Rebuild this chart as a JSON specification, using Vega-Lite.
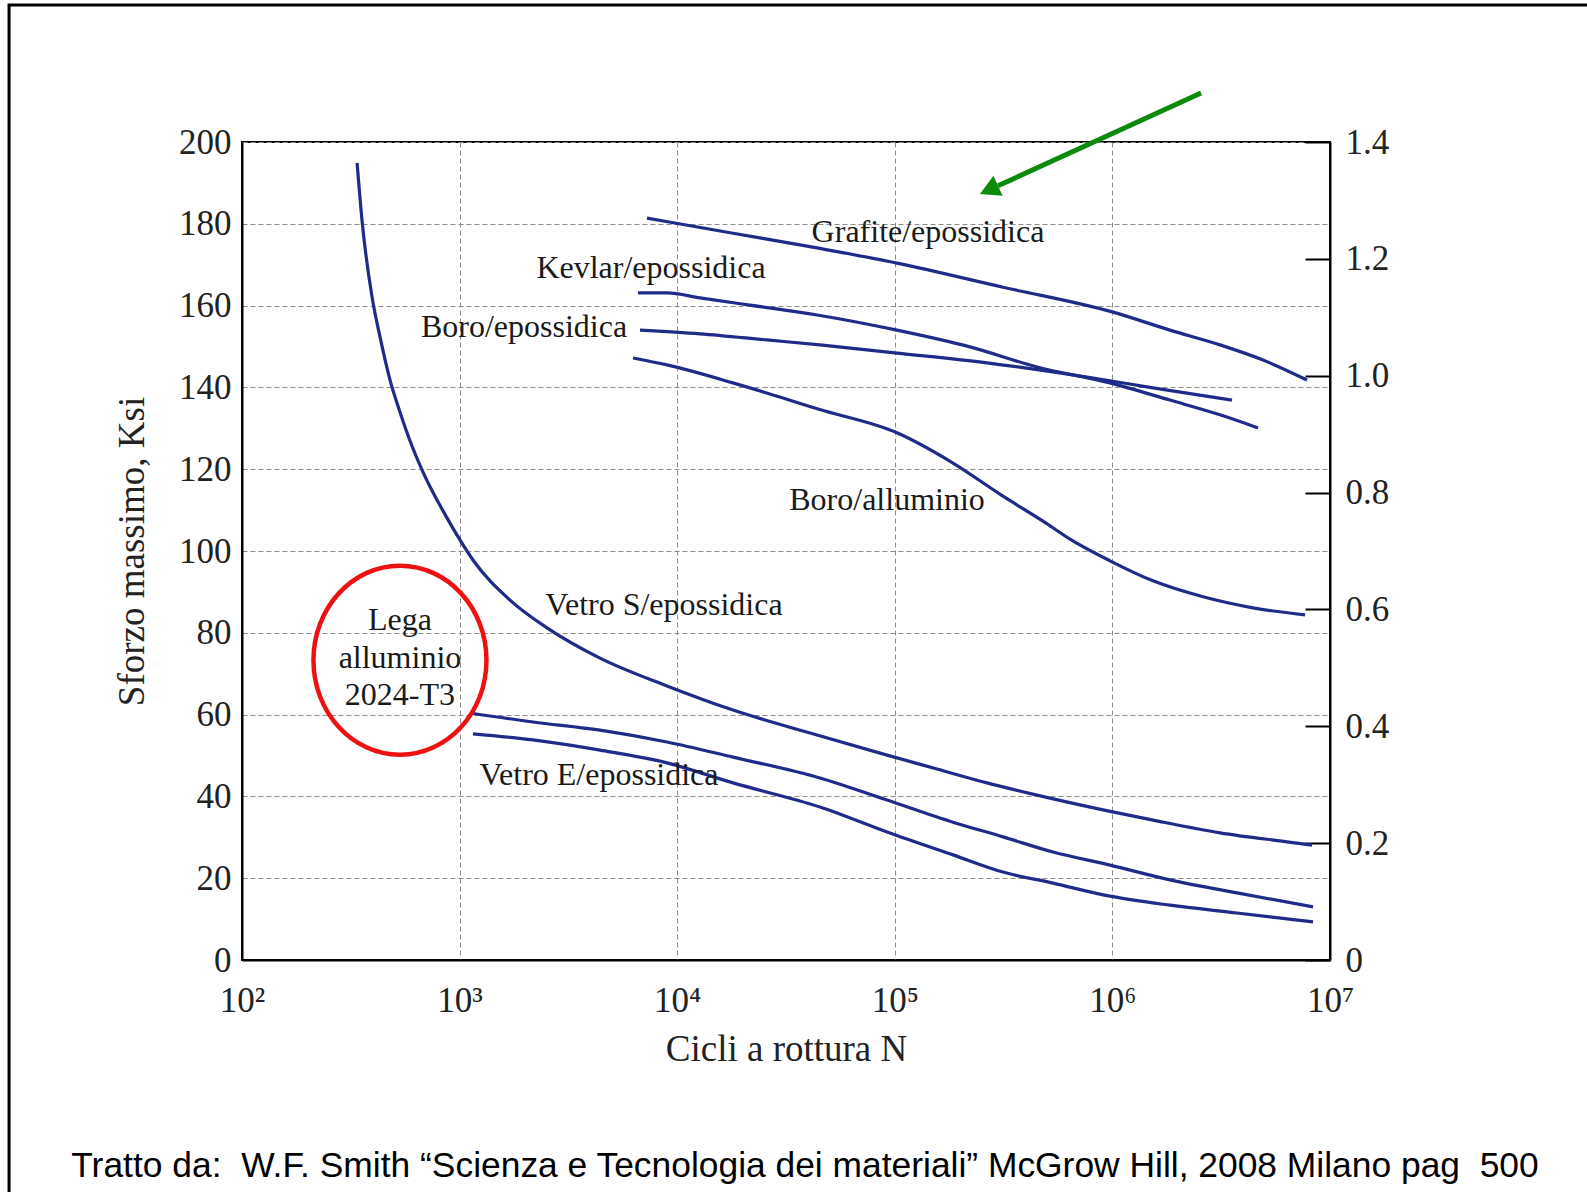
{
  "$schema": "https://vega.github.io/schema/vega-lite/v6.json",
  "width": 1088,
  "height": 818,
  "autosize": {"type": "none"},
  "padding": {"left": 242, "top": 142, "right": 257, "bottom": 232},
  "background": "white",
  "config": {
    "font": "Liberation Serif",
    "view": {"stroke": "black", "strokeWidth": 2},
    "axis": {
      "domainColor": "black",
      "domainWidth": 2,
      "labelFont": "Liberation Serif",
      "labelFontSize": 35,
      "labelColor": "#222222",
      "titleFont": "Liberation Serif",
      "titleFontSize": 37,
      "titleFontWeight": "normal",
      "titleColor": "#222222",
      "gridColor": "#8c8c8c",
      "gridDash": [5, 3],
      "gridWidth": 1,
      "labelOverlap": false,
      "labelFlush": false,
      "labelBound": false
    }
  },
  "datasets": {
    "curves": [
      {"material": "Vetro S/epossidica", "N": 338, "stress": 194.9},
      {"material": "Vetro S/epossidica", "N": 356, "stress": 180.9},
      {"material": "Vetro S/epossidica", "N": 396, "stress": 162.1},
      {"material": "Vetro S/epossidica", "N": 431, "stress": 152.3},
      {"material": "Vetro S/epossidica", "N": 479, "stress": 141.8},
      {"material": "Vetro S/epossidica", "N": 532, "stress": 134.0},
      {"material": "Vetro S/epossidica", "N": 592, "stress": 126.9},
      {"material": "Vetro S/epossidica", "N": 679, "stress": 119.3},
      {"material": "Vetro S/epossidica", "N": 875, "stress": 108.1},
      {"material": "Vetro S/epossidica", "N": 1004, "stress": 102.7},
      {"material": "Vetro S/epossidica", "N": 1152, "stress": 97.8},
      {"material": "Vetro S/epossidica", "N": 1704, "stress": 88.0},
      {"material": "Vetro S/epossidica", "N": 2522, "stress": 81.2},
      {"material": "Vetro S/epossidica", "N": 4418, "stress": 73.8},
      {"material": "Vetro S/epossidica", "N": 8977, "stress": 67.0},
      {"material": "Vetro S/epossidica", "N": 18050, "stress": 61.1},
      {"material": "Vetro S/epossidica", "N": 43910, "stress": 55.0},
      {"material": "Vetro S/epossidica", "N": 92100, "stress": 50.1},
      {"material": "Vetro S/epossidica", "N": 156300, "stress": 46.7},
      {"material": "Vetro S/epossidica", "N": 265300, "stress": 43.3},
      {"material": "Vetro S/epossidica", "N": 450300, "stress": 40.3},
      {"material": "Vetro S/epossidica", "N": 905300, "stress": 36.7},
      {"material": "Vetro S/epossidica", "N": 1537000, "stress": 34.2},
      {"material": "Vetro S/epossidica", "N": 3123000, "stress": 31.1},
      {"material": "Vetro S/epossidica", "N": 6344000, "stress": 28.9},
      {"material": "Vetro S/epossidica", "N": 8269000, "stress": 28.1},

      {"material": "Lega alluminio 2024-T3", "N": 1116, "stress": 60.4},
      {"material": "Lega alluminio 2024-T3", "N": 2174, "stress": 58.2},
      {"material": "Lega alluminio 2024-T3", "N": 4418, "stress": 56.2},
      {"material": "Lega alluminio 2024-T3", "N": 8977, "stress": 53.3},
      {"material": "Lega alluminio 2024-T3", "N": 18050, "stress": 49.6},
      {"material": "Lega alluminio 2024-T3", "N": 45320, "stress": 44.5},
      {"material": "Lega alluminio 2024-T3", "N": 92100, "stress": 39.1},
      {"material": "Lega alluminio 2024-T3", "N": 185100, "stress": 33.7},
      {"material": "Lega alluminio 2024-T3", "N": 314300, "stress": 30.1},
      {"material": "Lega alluminio 2024-T3", "N": 533400, "stress": 26.4},
      {"material": "Lega alluminio 2024-T3", "N": 975000, "stress": 23.2},
      {"material": "Lega alluminio 2024-T3", "N": 1839000, "stress": 19.6},
      {"material": "Lega alluminio 2024-T3", "N": 3737000, "stress": 16.4},
      {"material": "Lega alluminio 2024-T3", "N": 8357000, "stress": 13.0},

      {"material": "Vetro E/epossidica", "N": 1152, "stress": 55.3},
      {"material": "Vetro E/epossidica", "N": 2174, "stress": 53.8},
      {"material": "Vetro E/epossidica", "N": 4418, "stress": 51.3},
      {"material": "Vetro E/epossidica", "N": 8977, "stress": 48.2},
      {"material": "Vetro E/epossidica", "N": 18050, "stress": 43.3},
      {"material": "Vetro E/epossidica", "N": 45320, "stress": 37.4},
      {"material": "Vetro E/epossidica", "N": 92100, "stress": 31.3},
      {"material": "Vetro E/epossidica", "N": 185100, "stress": 25.7},
      {"material": "Vetro E/epossidica", "N": 314300, "stress": 21.5},
      {"material": "Vetro E/epossidica", "N": 533400, "stress": 18.8},
      {"material": "Vetro E/epossidica", "N": 975000, "stress": 15.6},
      {"material": "Vetro E/epossidica", "N": 1839000, "stress": 13.4},
      {"material": "Vetro E/epossidica", "N": 3737000, "stress": 11.5},
      {"material": "Vetro E/epossidica", "N": 8357000, "stress": 9.3},

      {"material": "Grafite/epossidica", "N": 7264, "stress": 181.4},
      {"material": "Grafite/epossidica", "N": 18050, "stress": 177.7},
      {"material": "Grafite/epossidica", "N": 43910, "stress": 174.1},
      {"material": "Grafite/epossidica", "N": 102300, "stress": 170.4},
      {"material": "Grafite/epossidica", "N": 314300, "stress": 164.5},
      {"material": "Grafite/epossidica", "N": 1007000, "stress": 158.4},
      {"material": "Grafite/epossidica", "N": 1839000, "stress": 154.0},
      {"material": "Grafite/epossidica", "N": 3123000, "stress": 150.4},
      {"material": "Grafite/epossidica", "N": 4921000, "stress": 146.7},
      {"material": "Grafite/epossidica", "N": 7840000, "stress": 141.8},

      {"material": "Kevlar/epossidica", "N": 6606, "stress": 163.1},
      {"material": "Kevlar/epossidica", "N": 8977, "stress": 163.1},
      {"material": "Kevlar/epossidica", "N": 12730, "stress": 161.9},
      {"material": "Kevlar/epossidica", "N": 21610, "stress": 160.1},
      {"material": "Kevlar/epossidica", "N": 43910, "stress": 157.7},
      {"material": "Kevlar/epossidica", "N": 102300, "stress": 154.0},
      {"material": "Kevlar/epossidica", "N": 221600, "stress": 149.9},
      {"material": "Kevlar/epossidica", "N": 450300, "stress": 145.0},
      {"material": "Kevlar/epossidica", "N": 975000, "stress": 141.1},
      {"material": "Kevlar/epossidica", "N": 1839000, "stress": 136.9},
      {"material": "Kevlar/epossidica", "N": 3123000, "stress": 133.3},
      {"material": "Kevlar/epossidica", "N": 4668000, "stress": 130.1},

      {"material": "Boro/epossidica", "N": 6745, "stress": 154.0},
      {"material": "Boro/epossidica", "N": 12730, "stress": 153.1},
      {"material": "Boro/epossidica", "N": 25860, "stress": 151.6},
      {"material": "Boro/epossidica", "N": 45320, "stress": 150.4},
      {"material": "Boro/epossidica", "N": 102300, "stress": 148.4},
      {"material": "Boro/epossidica", "N": 265300, "stress": 146.0},
      {"material": "Boro/epossidica", "N": 764200, "stress": 142.5},
      {"material": "Boro/epossidica", "N": 1537000, "stress": 139.9},
      {"material": "Boro/epossidica", "N": 3545000, "stress": 136.9},

      {"material": "Boro/alluminio", "N": 6266, "stress": 147.2},
      {"material": "Boro/alluminio", "N": 8977, "stress": 145.5},
      {"material": "Boro/alluminio", "N": 18050, "stress": 141.1},
      {"material": "Boro/alluminio", "N": 30640, "stress": 137.4},
      {"material": "Boro/alluminio", "N": 44380, "stress": 134.7},
      {"material": "Boro/alluminio", "N": 102300, "stress": 128.9},
      {"material": "Boro/alluminio", "N": 185100, "stress": 121.5},
      {"material": "Boro/alluminio", "N": 314300, "stress": 113.4},
      {"material": "Boro/alluminio", "N": 479900, "stress": 107.3},
      {"material": "Boro/alluminio", "N": 638500, "stress": 102.9},
      {"material": "Boro/alluminio", "N": 975000, "stress": 97.6},
      {"material": "Boro/alluminio", "N": 1537000, "stress": 92.7},
      {"material": "Boro/alluminio", "N": 2609000, "stress": 88.8},
      {"material": "Boro/alluminio", "N": 4428000, "stress": 86.1},
      {"material": "Boro/alluminio", "N": 7678000, "stress": 84.4}
    ],
    "labels": [
      {"label": "Grafite/epossidica", "N": 142100, "stress": 178.0},
      {"label": "Kevlar/epossidica", "N": 7579, "stress": 169.2},
      {"label": "Boro/epossidica", "N": 1977, "stress": 154.8},
      {"label": "Boro/alluminio", "N": 92100, "stress": 112.5},
      {"label": "Vetro S/epossidica", "N": 8697, "stress": 86.8},
      {"label": "Vetro E/epossidica", "N": 4371, "stress": 45.2},
      {"label": "Lega", "N": 532, "stress": 83.1},
      {"label": "alluminio", "N": 532, "stress": 73.8},
      {"label": "2024-T3", "N": 532, "stress": 64.8}
    ],
    "footer": [
      {"label": "Tratto da: \u00a0W.F. Smith “Scienza e Tecnologia dei materiali” McGrow Hill, 2008 Milano pag \u00a0500", "N": 38670, "stress": -50.4}
    ],
    "highlight": [
      {"N": 532, "stress": 73.3}
    ],
    "arrow": [
      {"point": "coda", "N": 2555000, "stress": 212.0},
      {"point": "base", "N": 298100, "stress": 189.3}
    ],
    "arrowhead": [
      {"N": 246300, "stress": 187.3}
    ],
    "frame": [
      {"N": 8.5, "N2": 10000000000, "stress": 233.5, "stress2": -200}
    ],
    "gpa": [
      {"GPa": 0},
      {"GPa": 1.4}
    ]
  },
  "layer": [
    {
      "encoding": {
        "x": {
          "field": "N",
          "type": "quantitative",
          "scale": {"type": "log", "domain": [100, 10000000], "nice": false},
          "axis": {
            "values": [100, 1000, 10000, 100000, 1000000, 10000000],
            "labelExpr": "'10' + ['⁰','¹','²','³','⁴','⁵','⁶','⁷'][round(log(datum.value)/LN10)]",
            "ticks": false,
            "labelPadding": 23,
            "title": "Cicli a rottura N",
            "titlePadding": 13,
            "grid": true
          }
        },
        "y": {
          "field": "stress",
          "type": "quantitative",
          "scale": {"domain": [0, 200], "nice": false, "zero": false},
          "axis": {
            "values": [0, 20, 40, 60, 80, 100, 120, 140, 160, 180, 200],
            "ticks": false,
            "labelPadding": 11,
            "title": "Sforzo massimo, Ksi",
            "titlePadding": 27,
            "grid": true
          }
        }
      },
      "layer": [
        {
          "data": {"name": "frame"},
          "mark": {"type": "rect", "fillOpacity": 0, "stroke": "black", "strokeWidth": 3},
          "encoding": {
            "x2": {"field": "N2"},
            "y2": {"field": "stress2"}
          }
        },
        {
          "data": {"name": "curves"},
          "mark": {"type": "line", "color": "#1f2b88", "strokeWidth": 3.2, "interpolate": "monotone"},
          "encoding": {
            "detail": {"field": "material", "type": "nominal"}
          }
        },
        {
          "data": {"name": "labels"},
          "mark": {"type": "text", "font": "Liberation Serif", "fontSize": 32, "color": "#1a1a1a", "align": "center", "baseline": "middle"},
          "encoding": {
            "text": {"field": "label", "type": "nominal"}
          }
        },
        {
          "data": {"name": "footer"},
          "mark": {"type": "text", "font": "Liberation Sans", "fontSize": 35.4, "color": "black", "align": "center", "baseline": "middle"},
          "encoding": {
            "text": {"field": "label", "type": "nominal"}
          }
        },
        {
          "data": {"name": "highlight"},
          "mark": {
            "type": "point",
            "shape": "M 0 -1.0925 C 0.5523 -1.0925 1 -0.6034 1 0 C 1 0.6034 0.5523 1.0925 0 1.0925 C -0.5523 1.0925 -1 0.6034 -1 0 C -1 -0.6034 -0.5523 -1.0925 0 -1.0925 Z",
            "size": 29929,
            "filled": false,
            "stroke": "#ee1111",
            "strokeWidth": 4.5,
            "opacity": 1
          }
        },
        {
          "data": {"name": "arrow"},
          "mark": {"type": "line", "color": "#0b8a0b", "strokeWidth": 5},
          "encoding": {}
        },
        {
          "data": {"name": "arrowhead"},
          "mark": {
            "type": "point",
            "shape": "M 0 0 L -1 1.8 L 1 1.8 Z",
            "size": 484,
            "angle": 245.4,
            "filled": true,
            "color": "#0b8a0b",
            "opacity": 1,
            "strokeWidth": 0
          }
        }
      ]
    },
    {
      "data": {"name": "gpa"},
      "mark": {"type": "point", "opacity": 0},
      "encoding": {
        "y": {
          "field": "GPa",
          "type": "quantitative",
          "scale": {"domain": [0, 1.4], "nice": false, "zero": false},
          "axis": {
            "orient": "right",
            "values": [0, 0.2, 0.4, 0.6, 0.8, 1.0, 1.2, 1.4],
            "labelExpr": "datum.value == 0 ? '0' : format(datum.value, '.1f')",
            "tickSize": -25,
            "tickColor": "black",
            "tickWidth": 2,
            "labelPadding": 40,
            "grid": false,
            "title": null
          }
        }
      }
    }
  ],
  "resolve": {"scale": {"y": "independent"}}
}
